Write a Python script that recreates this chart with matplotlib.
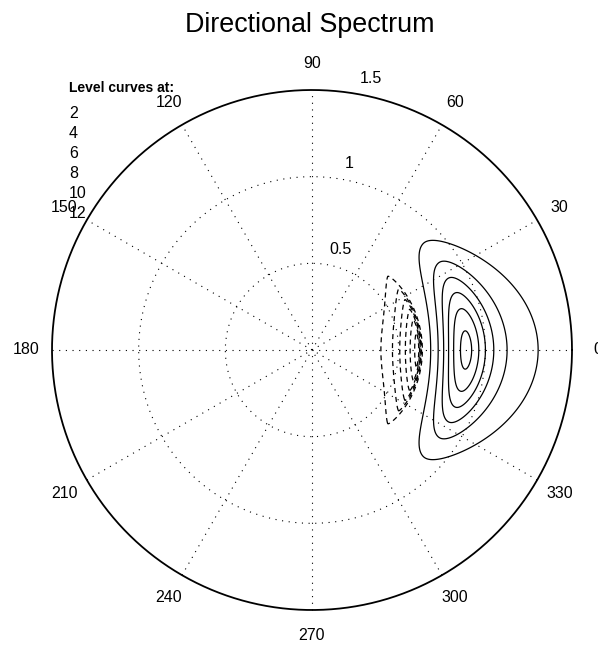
import numpy as np
import matplotlib.pyplot as plt

plt.rcParams['font.family'] = ['Liberation Sans', 'DejaVu Sans']
plt.rcParams['lines.dashed_pattern'] = [4.0, 3.2]

# contour levels (solid above zero, dashed below)
levels = [2, 4, 6, 8, 10, 12]
rmax = 1.5
ring_radii = [0.5, 1.0]
spoke_angles = [0, 30, 60, 90, 120, 150]
angle_labels = [0, 30, 60, 90, 120, 150, 180, 210, 240, 270, 300, 330]
radial_labels = [0.5, 1, 1.5]

# spectrum shape: radius = frequency, angle = direction (deg)
peak_value = 12.6
peak_freq = 0.89
low_width = 0.107
high_width = 0.1156
high_power = 0.7
dip_value = 13.5
dip_freq = 0.61
dip_width_low = 0.124
dip_power_low = 1.2
dip_width_high = 0.015
spread_deg = 22.8

# polar grid of the spectrum
r = np.linspace(0, rmax, 900)
th = np.linspace(-np.pi, np.pi, 721)
R, T = np.meshgrid(r, th)
dr = R - peak_freq
pos = np.where(dr < 0, np.exp(-0.5 * (dr / low_width) ** 2),
               (1 + (dr / high_width) ** 2) ** (-high_power))
dd = R - dip_freq
neg = np.where(dd < 0, np.exp(-(np.abs(dd) / dip_width_low) ** dip_power_low),
               np.exp(-0.5 * (dd / dip_width_high) ** 2))
Z = (peak_value * pos - dip_value * neg) * np.exp(-0.5 * (np.degrees(T) / spread_deg) ** 2)
X = R * np.cos(T)
Y = R * np.sin(T)

fig = plt.figure(figsize=(5.98, 6.46), dpi=100)
ax = fig.add_axes([0, 0, 1, 1])
scale = 260 / rmax  # pixels per unit
ax.set_xlim(-312 / scale, 286 / scale)
ax.set_ylim(-296 / scale, 350 / scale)
ax.axis('off')

dots = (0, (1, 5))
t = np.linspace(0, 2 * np.pi, 400)
for rr in ring_radii:
    ax.plot(rr * np.cos(t), rr * np.sin(t), color='k', lw=0.8, ls=dots)
for a in spoke_angles:
    ca, sa = np.cos(np.radians(a)), np.sin(np.radians(a))
    ax.plot([-rmax * ca, rmax * ca], [-rmax * sa, rmax * sa], color='k', lw=0.8, ls=dots)
ax.plot(rmax * np.cos(t), rmax * np.sin(t), color='k', lw=1.3)

all_levels = [-v for v in levels[::-1]] + levels
styles = ['dashed'] * len(levels) + ['solid'] * len(levels)
ax.contour(X, Y, Z, levels=all_levels, colors='k', linewidths=0.9, linestyles=styles)

for a in angle_labels:
    ax.text(1.1 * rmax * np.cos(np.radians(a)), 1.1 * rmax * np.sin(np.radians(a)),
            str(a), ha='center', va='center', fontsize=11.5)
for v in radial_labels:
    rr = v + 0.09
    ax.text(rr * np.cos(np.radians(80)), rr * np.sin(np.radians(80)), f"{v:g}",
            ha='left', va='center', fontsize=11.5)

x0 = (69 - 312) / scale
ax.text(x0, (350 - 88) / scale, 'Level curves at:', fontsize=10, fontweight='bold',
        ha='left', va='center')
for i, v in enumerate(levels):
    ax.text(x0, (350 - 114 - 19.8 * i) / scale, str(v), fontsize=11.5, ha='left', va='center')

fig.text(310 / 598, 1 - 25 / 646, 'Directional Spectrum', ha='center', va='center', fontsize=19.4)

fig.savefig('out.png', dpi=100)
